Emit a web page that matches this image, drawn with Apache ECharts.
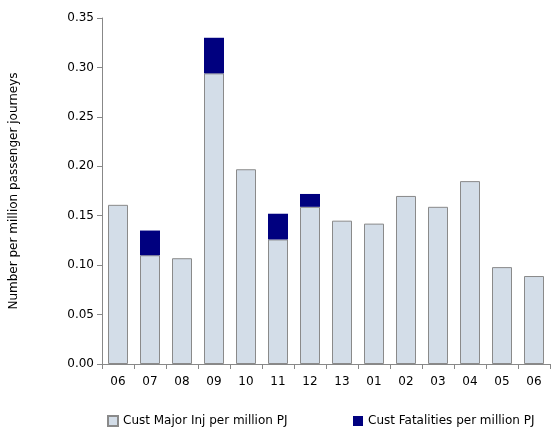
<!DOCTYPE html>
<html>
<head>
<meta charset="UTF-8">
<script src="https://cdn.jsdelivr.net/npm/echarts@6/dist/echarts.min.js"></script>
</head>
<body style="margin:0">
<div id="main" style="width:551px;height:434px;"></div>
<script>
var categories = ['06', '07', '08', '09', '10', '11', '12', '13', '01', '02', '03', '04', '05', '06'];
var majorInj = [0.161, 0.110, 0.107, 0.294, 0.197, 0.126, 0.159, 0.145, 0.142, 0.170, 0.159, 0.185, 0.098, 0.089];
var fatalities = [0, 0.025, 0, 0.036, 0, 0.026, 0.013, 0, 0, 0, 0, 0, 0, 0];
var yTicks = ['0.00', '0.05', '0.10', '0.15', '0.20', '0.25', '0.30', '0.35'];

var chart = echarts.init(document.getElementById('main'));
var axisLine = {show: true, lineStyle: {color: '#888', width: 1}};
var legendBase = {
    orient: 'horizontal', bottom: 2, itemWidth: 10, itemHeight: 10, icon: 'rect',
    textStyle: {fontSize: 12, color: '#000'}
};
chart.setOption({
    animation: false,
    textStyle: {fontFamily: 'DejaVu Sans', color: '#000'},
    grid: {left: 100, right: 1, top: 18, bottom: 70},
    legend: [
        Object.assign({left: 102, data: ['Cust Major Inj per million PJ']}, legendBase),
        Object.assign({left: 348, data: ['Cust Fatalities per million PJ']}, legendBase)
    ],
    xAxis: {
        type: 'category', data: categories,
        axisLine: axisLine,
        axisTick: {show: true, length: 5, lineStyle: {color: '#888'}},
        axisLabel: {fontSize: 12, color: '#000', margin: 12}
    },
    yAxis: {
        type: 'value', min: 0, max: 0.35, interval: 0.05,
        name: 'Number per million passenger journeys', nameLocation: 'middle', nameGap: 82,
        nameTextStyle: {fontSize: 12, color: '#000'},
        axisLine: axisLine,
        axisTick: {show: true, length: 5, lineStyle: {color: '#888'}},
        splitLine: {show: false},
        axisLabel: {fontSize: 12, color: '#000', formatter: function (v) { return yTicks[Math.round(v / 0.05)]; }}
    },
    series: [
        {
            name: 'Cust Major Inj per million PJ', type: 'bar', stack: 'a', barWidth: 20,
            itemStyle: {color: '#d3dde8', borderColor: '#8a8a8a', borderWidth: 1},
            data: majorInj
        },
        {
            name: 'Cust Fatalities per million PJ', type: 'bar', stack: 'a', barWidth: 20,
            itemStyle: {color: '#00007f'},
            data: fatalities
        }
    ]
});
</script>
</body>
</html>
